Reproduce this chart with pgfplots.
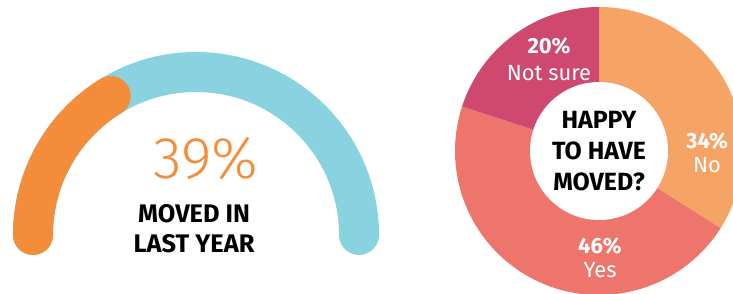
\documentclass[border=0pt]{standalone}
\usepackage{pgfplots}
\pgfplotsset{compat=1.18}
\usepackage{fontspec}
\setmainfont{Fira Sans}
\newfontfamily\lightfont{Fira Sans Light}
\definecolor{gOrange}{HTML}{F48D3A}
\definecolor{gBlue}{HTML}{89D2DF}
\definecolor{cNo}{HTML}{F6A366}
\definecolor{cYes}{HTML}{EE756B}
\definecolor{cNot}{HTML}{CE4870}
% data
\def\moved{39}
\def\pNo{34}
\def\pYes{46}
\def\pNot{20}
\begin{document}
\begin{tikzpicture}
\begin{axis}[x=1bp,y=1bp,xmin=0,xmax=733,ymin=0,ymax=293,hide axis,clip=true]
% gauge
\pgfmathsetmacro{\gEnd}{180-\moved*1.5}
\draw[gBlue, line width=40bp, line cap=round] (axis cs:33,58) arc[start angle=180,end angle=0,radius=163bp];
\draw[gOrange, line width=40bp, line cap=round] (axis cs:33,58) arc[start angle=180,end angle=\gEnd,radius=163bp];
\node[anchor=base, text=gOrange, font=\fontsize{59}{59}\selectfont\lightfont] at (axis cs:206,115) {39\%};
\node[anchor=base, font=\fontsize{25.5}{25.5}\selectfont\bfseries] at (axis cs:194,71) {MOVED IN};
\node[anchor=base, font=\fontsize{25.5}{25.5}\selectfont\bfseries] at (axis cs:194,41) {LAST YEAR};
% donut
\pgfmathsetmacro{\aA}{90}
\pgfmathsetmacro{\aB}{90-\pNo*3.6}
\pgfmathsetmacro{\aC}{\aB-\pYes*3.6}
\pgfmathsetmacro{\aD}{\aC-\pNot*3.6}
\fill[cNo] (axis cs:599,142) -- ++(\aA:144bp) arc[start angle=\aA,end angle=\aB,radius=144bp] -- cycle;
\fill[cYes] (axis cs:599,142) -- ++(\aB:144bp) arc[start angle=\aB,end angle=\aC,radius=144bp] -- cycle;
\fill[cNot] (axis cs:599,142) -- ++(\aC:144bp) arc[start angle=\aC,end angle=\aD,radius=144bp] -- cycle;
\fill[white] (axis cs:599,142) circle[radius=69bp];
\node[anchor=base, font=\fontsize{25}{25}\selectfont\bfseries] at (axis cs:599,165) {HAPPY};
\node[anchor=base, font=\fontsize{25}{25}\selectfont\bfseries] at (axis cs:599,134) {TO HAVE};
\node[anchor=base, font=\fontsize{25}{25}\selectfont\bfseries] at (axis cs:599,103) {MOVED?};
\node[anchor=base, text=white, font=\fontsize{22}{22}\selectfont\bfseries] at (axis cs:549,240) {20\%};
\node[anchor=base, text=white, font=\fontsize{22}{22}\selectfont] at (axis cs:549,213) {Not sure};
\node[anchor=base, text=white, font=\fontsize{22}{22}\selectfont\bfseries] at (axis cs:707,145) {34\%};
\node[anchor=base, text=white, font=\fontsize{22}{22}\selectfont] at (axis cs:707,121) {No};
\node[anchor=base, text=white, font=\fontsize{22}{22}\selectfont\bfseries] at (axis cs:600,40) {46\%};
\node[anchor=base, text=white, font=\fontsize{22}{22}\selectfont] at (axis cs:600,16) {Yes};
\end{axis}
\pgfresetboundingbox
\useasboundingbox (current axis.south west) rectangle (current axis.north east);
\end{tikzpicture}
\end{document}
